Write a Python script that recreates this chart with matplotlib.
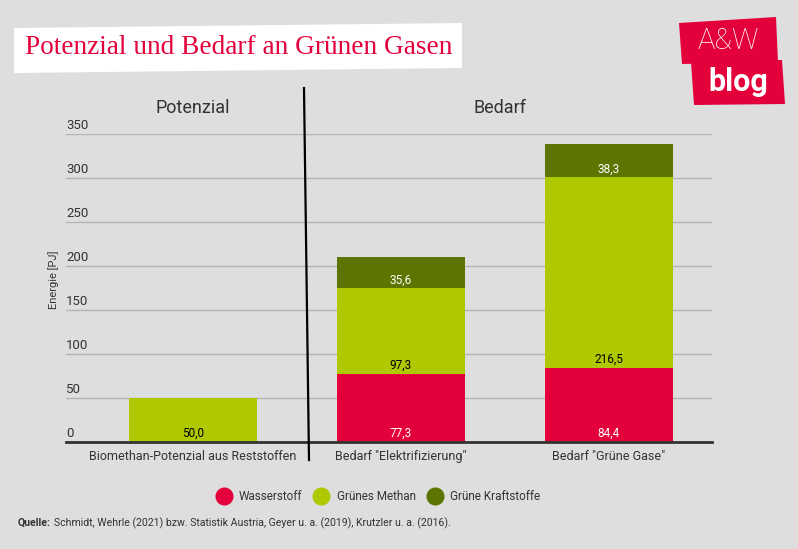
import matplotlib.pyplot as plt
from matplotlib.patches import Polygon
from matplotlib.lines import Line2D
import numpy as np

plt.rcParams['font.family'] = ['Roboto', 'DejaVu Sans']

categories = ['Biomethan-Potenzial aus Reststoffen', 'Bedarf "Elektrifizierung"', 'Bedarf "Grüne Gase"']
wasserstoff = [0.0, 77.3, 84.4]
methan = [50.0, 97.3, 216.5]
kraftstoffe = [0.0, 35.6, 38.3]
series_names = ['Wasserstoff', 'Grünes Methan', 'Grüne Kraftstoffe']
yticks = [0, 50, 100, 150, 200, 250, 300, 350]

RED = '#e4003a'
LGREEN = '#afc800'
DGREEN = '#5c7400'
BG = '#dedede'
TXT = '#333333'

W, H = 798, 549
fig = plt.figure(figsize=(W / 100, H / 100), dpi=100, facecolor=BG)
ax = fig.add_axes([66 / W, 1 - 442 / H, (712 - 66) / W, (442 - 134) / H])
ax.set_facecolor(BG)

x = np.arange(len(categories))
width = 0.615
series = [wasserstoff, methan, kraftstoffe]
colors = [RED, LGREEN, DGREEN]
text_colors = ['white', 'black', 'white']
bottom = np.zeros(len(categories))
for vals, col, tc in zip(series, colors, text_colors):
    vals = np.array(vals)
    ax.bar(x, vals, width, bottom=bottom, color=col, zorder=3)
    for xi, v, b in zip(x, vals, bottom):
        if v > 0:
            ax.annotate(f'{v:.1f}'.replace('.', ','), (xi, b), xytext=(0, 6),
                        textcoords='offset points', ha='center', va='center',
                        fontsize=8.5, color=tc, zorder=4)
    bottom = bottom + vals

ax.set_xlim(-127 / 208, 2 + 103 / 208)
ax.set_ylim(0, 350)
ax.set_yticks(yticks)
ax.set_yticklabels([])
ax.tick_params(axis='y', length=0)
ax.grid(axis='y', color='#b4b4b4', lw=1, zorder=0)
for s in ['top', 'right', 'left']:
    ax.spines[s].set_visible(False)
ax.spines['bottom'].set_color(TXT)
ax.spines['bottom'].set_linewidth(2)
ax.spines['bottom'].set_zorder(5)

for t in yticks:
    ax.annotate(str(t), (0, t), xycoords=('axes fraction', 'data'), xytext=(0, 6),
                textcoords='offset points', ha='left', va='center', fontsize=9.5, color=TXT)

ax.set_xticks(x)
ax.set_xticklabels(categories, fontsize=9, color=TXT)
ax.tick_params(axis='x', length=0, pad=6)

fig.text(54 / W, 1 - 280 / H, 'Energie [PJ]', rotation=90, ha='center', va='center',
         fontsize=8, color=TXT)

# section headers and divider
fig.text(193 / W, 1 - 108 / H, 'Potenzial', ha='center', va='center', fontsize=13, color=TXT)
fig.text(500 / W, 1 - 108 / H, 'Bedarf', ha='center', va='center', fontsize=13, color=TXT)
fig.add_artist(Line2D([304 / W, 309 / W], [1 - 88 / H, 1 - 460 / H], color='black', lw=1.6))

# title box
box = [(14, 28), (462, 23), (462, 68), (14, 73)]
fig.add_artist(Polygon([(a / W, 1 - b / H) for a, b in box], closed=True,
                       facecolor='white', edgecolor='none', transform=fig.transFigure))
fig.text(25 / W, 1 - 48 / H, 'Potenzial und Bedarf an Grünen Gasen', ha='left', va='center',
         fontsize=19.6, color=RED, family=['Liberation Serif'])

# logo
logo1 = [(679, 23), (776, 17), (778, 62), (682, 64)]
logo2 = [(691, 62), (782, 60), (785, 104), (694, 105)]
for poly in (logo1, logo2):
    fig.add_artist(Polygon([(a / W, 1 - b / H) for a, b in poly], closed=True,
                           facecolor=RED, edgecolor='none', transform=fig.transFigure))
fig.text(728 / W, 1 - 41 / H, 'A&W', ha='center', va='center', fontsize=21, color='white',
         fontweight='light')
fig.text(738 / W, 1 - 82 / H, 'blog', ha='center', va='center', fontsize=22,
         color='white', fontweight='bold')

# legend
handles = [Line2D([], [], marker='o', ls='none', markersize=12, color=c) for c in colors]
fig.legend(handles, series_names, loc='center', bbox_to_anchor=(376 / W, 1 - 497 / H),
           ncol=3, frameon=False, fontsize=8.5, handletextpad=0.3, columnspacing=0.6,
           labelcolor=TXT)

fig.text(18 / W, 1 - 523 / H, 'Quelle:', ha='left', va='center', fontsize=7.6,
         color=TXT, fontweight='bold')
fig.text(54 / W, 1 - 523 / H, 'Schmidt, Wehrle (2021) bzw. Statistik Austria, Geyer u. a. (2019), '
         'Krutzler u. a. (2016).', ha='left', va='center', fontsize=7.6, color=TXT)

fig.savefig('out.png', dpi=100, facecolor=BG)
